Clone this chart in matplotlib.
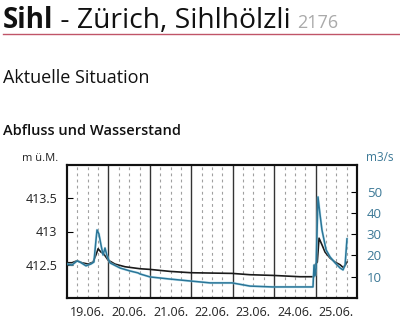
import matplotlib
matplotlib.use('Agg')
import matplotlib.pyplot as plt
from matplotlib.lines import Line2D

plt.rcParams['font.family'] = ['Open Sans', 'DejaVu Sans']

# hours since 19.06. 00:00
level_t = [0, 2.9, 5.8, 8.7, 12.2, 15.1, 16.8, 18.0, 19.7, 21.4, 23.8, 27.8, 33.6, 42.3,
           48.1, 59.7, 71.8, 95.6, 106, 119, 135, 143, 143.7, 145, 146, 147.7, 149.5,
           152.4, 155.3, 158.2, 159.9, 161.1, 162.2]
level_m = [412.53, 412.53, 412.56, 412.53, 412.51, 412.54, 412.65, 412.74, 412.69, 412.66,
           412.57, 412.51, 412.47, 412.44, 412.43, 412.40, 412.38, 412.37, 412.35, 412.34,
           412.32, 412.32, 412.50, 412.54, 412.90, 412.80, 412.69, 412.60, 412.54, 412.50,
           412.46, 412.49, 412.54]

flow_t = [0, 2.9, 5.8, 7.5, 11.0, 13.9, 15.6, 16.8, 17.4, 18.5, 19.7, 20.9, 22.0, 23.2,
          24.9, 30.7, 36.5, 41.1, 42.3, 48.1, 59.7, 71.3, 82.9, 95.6, 106, 119, 135, 142.5,
          143.1, 143.7, 144.3, 145.4, 146.6, 147.7, 150.1, 152.4, 155.3, 158.2, 159.9,
          161.1, 162.2]
flow_q = [16.0, 15.5, 17.4, 16.9, 15.1, 16.0, 16.9, 27.3, 32.0, 30.1, 24.9, 20.2, 23.5, 19.8,
          16.5, 14.1, 12.7, 11.8, 11.3, 9.9, 8.9, 8.0, 7.1, 7.1, 5.6, 5.2, 5.2, 5.2,
          15.5, 10.4, 14.1, 47.5, 39.1, 32.0, 22.6, 19.3, 16.5, 14.1, 13.2, 15.5, 27.8]

day_labels = ['19.06.', '20.06.', '21.06.', '22.06.', '23.06.', '24.06.', '25.06.']
level_ticks = [412.5, 413, 413.5]
level_ticklabels = ['412.5', '413', '413.5']
flow_ticks = [10, 20, 30, 40, 50]

blue = '#2a7597'
blue_txt = '#3b7896'

fig = plt.figure(figsize=(4, 3.25), dpi=100)

# header
r = fig.canvas.get_renderer()
t1 = fig.text(3/400, 1-28/325, 'Sihl', fontsize=20, fontweight='bold', color='#111111')
w1 = t1.get_window_extent(r).x1
t2 = fig.text(w1/400, 1-28/325, ' - Zürich, Sihlhölzli', fontsize=20.3, color='#111111')
w2 = t2.get_window_extent(r).x1
fig.text((w2+6)/400, 1-28/325, '2176', fontsize=13, color='#aaaaaa')
fig.add_artist(Line2D([3/400, 1], [1-34/325, 1-34/325], color='#c05468', lw=1))

fig.text(3/400, 1-83/325, 'Aktuelle Situation', fontsize=13, color='#111111')
fig.text(3/400, 1-135/325, 'Abfluss und Wasserstand', fontsize=10.5, fontweight='semibold',
         color='#111111')
fig.text(58/400, 1-161/325, 'm ü.M.', fontsize=8, ha='right', color='#222222')
fig.text(366/400, 1-161/325, 'm3/s', fontsize=8.5, color=blue_txt)

ax = fig.add_axes([67/400, 1-298/325, 290/400, 133/325])
ax2 = ax.twinx()

# day separators and 6-hour dashes
for d in range(1, 7):
    ax.axvline(24*d, color='#333333', lw=1, zorder=1)
for h in range(6, 168, 6):
    if h % 24:
        ax.axvline(h, color='#a0a0a0', lw=0.8, ls=(0, (2.5, 3)), zorder=1)

ax.plot(level_t, level_m, color='#1a1a1a', lw=1.2, zorder=3)
ax2.plot(flow_t, flow_q, color='#9fd6ea', lw=1.8, alpha=0.6, zorder=3)
ax2.plot(flow_t, flow_q, color=blue, lw=1.1, zorder=4)

ax.set_xlim(0, 168)
ax.set_ylim(412.0, 414.0)
ax2.set_ylim(0, 62.5)

ax.set_xticks([12 + 24*i for i in range(7)])
ax.set_xticklabels(day_labels, fontsize=9, color='#222222')
ax.tick_params(axis='x', length=0, pad=6)
ax.set_yticks(level_ticks)
ax.set_yticklabels(level_ticklabels, fontsize=9, color='#222222')
ax.tick_params(axis='y', direction='in', length=4, width=0.8, pad=7)
ax2.set_yticks(flow_ticks)
ax2.set_yticklabels([str(v) for v in flow_ticks], fontsize=9.5, color=blue_txt)
ax2.tick_params(axis='y', direction='in', length=4, width=0.8, pad=7)

for a in (ax, ax2):
    for s in a.spines.values():
        s.set_linewidth(1.5)
        s.set_color('#111111')

fig.savefig('out.png', dpi=100)
